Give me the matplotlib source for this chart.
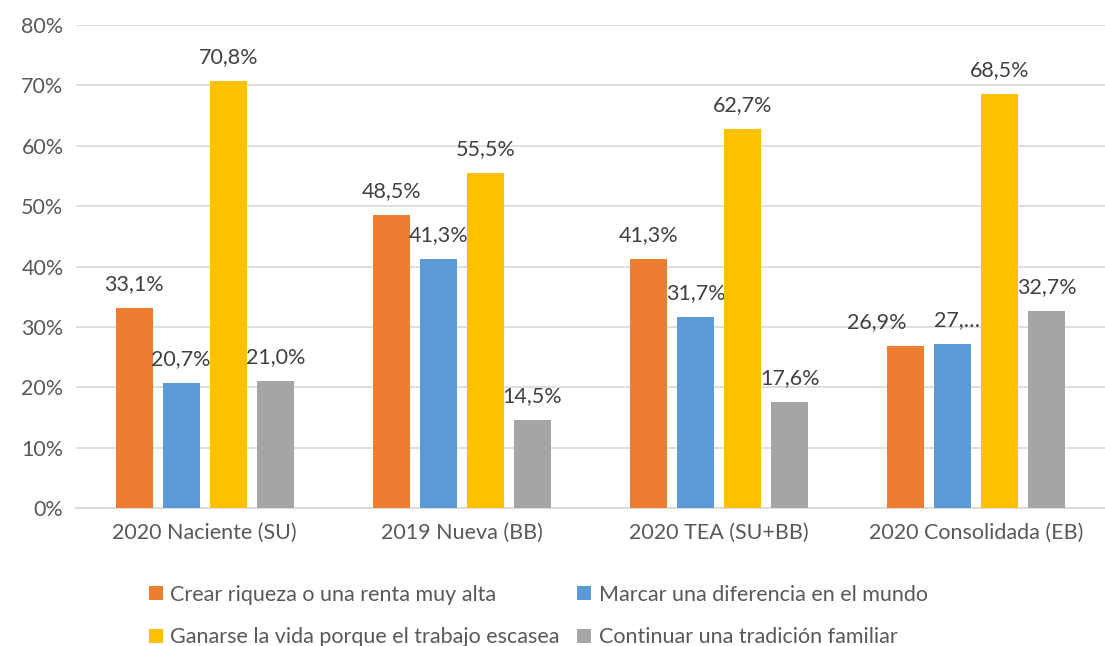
import matplotlib
matplotlib.use("Agg")
import matplotlib.pyplot as plt
import numpy as np
from matplotlib.ticker import PercentFormatter

plt.rcParams["font.family"] = ["Lato", "DejaVu Sans"]

categories = ["2020 Naciente (SU)", "2019 Nueva (BB)", "2020 TEA (SU+BB)", "2020 Consolidada (EB)"]
series_names = [
    "Crear riqueza o una renta muy alta",
    "Marcar una diferencia en el mundo",
    "Ganarse la vida porque el trabajo escasea",
    "Continuar una tradición familiar",
]
riqueza = [33.1, 48.5, 41.3, 26.9]
diferencia = [20.7, 41.3, 31.7, 27.1]
ganarse = [70.8, 55.5, 62.7, 68.5]
tradicion = [21.0, 14.5, 17.6, 32.7]
label_overrides = {(1, 3): "27,…"}  # (series, group) -> truncated label as in the original
label_shift = {(0, 3): -21, (1, 3): 3}  # horizontal nudge (points) to avoid collisions

colors = ["#ED7D31", "#5B9BD5", "#FFC000", "#A5A5A5"]
text_color = "#595959"

fig = plt.figure(figsize=(11.05, 6.46), dpi=100)
ax = fig.add_axes([0.0688, 0.2136, 0.931, 0.7477])

x = np.arange(len(categories))
slot = 0.183
width = 0.144
all_series = [riqueza, diferencia, ganarse, tradicion]
handles = []
for i, (vals, name, col) in enumerate(zip(all_series, series_names, colors)):
    pos = x + (i - 1.5) * slot
    bars = ax.bar(pos, vals, width=width, color=col, label=name, zorder=3)
    handles.append(bars)
    for j, (b, v) in enumerate(zip(bars, vals)):
        txt = label_overrides.get((i, j), f"{v:.1f}%".replace(".", ","))
        ax.annotate(txt, (b.get_x() + b.get_width() / 2, v),
                    xytext=(label_shift.get((i, j), 0), 10),
                    textcoords="offset points", ha="center", va="bottom",
                    fontsize=15.5, color="#404040")

ax.set_xlim(-0.5, 3.5)
ax.set_ylim(0, 80)
ax.set_yticks(range(0, 81, 10))
ax.yaxis.set_major_formatter(PercentFormatter(decimals=0))
ax.set_xticks(x)
ax.set_xticklabels(categories)
ax.tick_params(axis="both", length=0, labelsize=15.5, colors=text_color)
ax.tick_params(axis="x", pad=11)
ax.tick_params(axis="y", pad=9)
ax.grid(True, axis="y", color="#d9d9d9", linewidth=1.2, zorder=0)
for s in ["top", "right", "left"]:
    ax.spines[s].set_visible(False)
ax.spines["bottom"].set_color("#d9d9d9")
ax.spines["bottom"].set_linewidth(1.2)

# legend fills row by row: reorder for matplotlib's column-wise layout
order = [0, 2, 1, 3]
fig.legend([handles[k] for k in order], [series_names[k] for k in order],
           loc="upper left", bbox_to_anchor=(0.127, 0.108), ncol=2, frameon=False,
           fontsize=15.5, labelcolor=text_color, handlelength=0.65, handleheight=0.65,
           handletextpad=0.35, columnspacing=0.8, labelspacing=1.05, borderaxespad=0)

fig.savefig("out.png", dpi=100)
